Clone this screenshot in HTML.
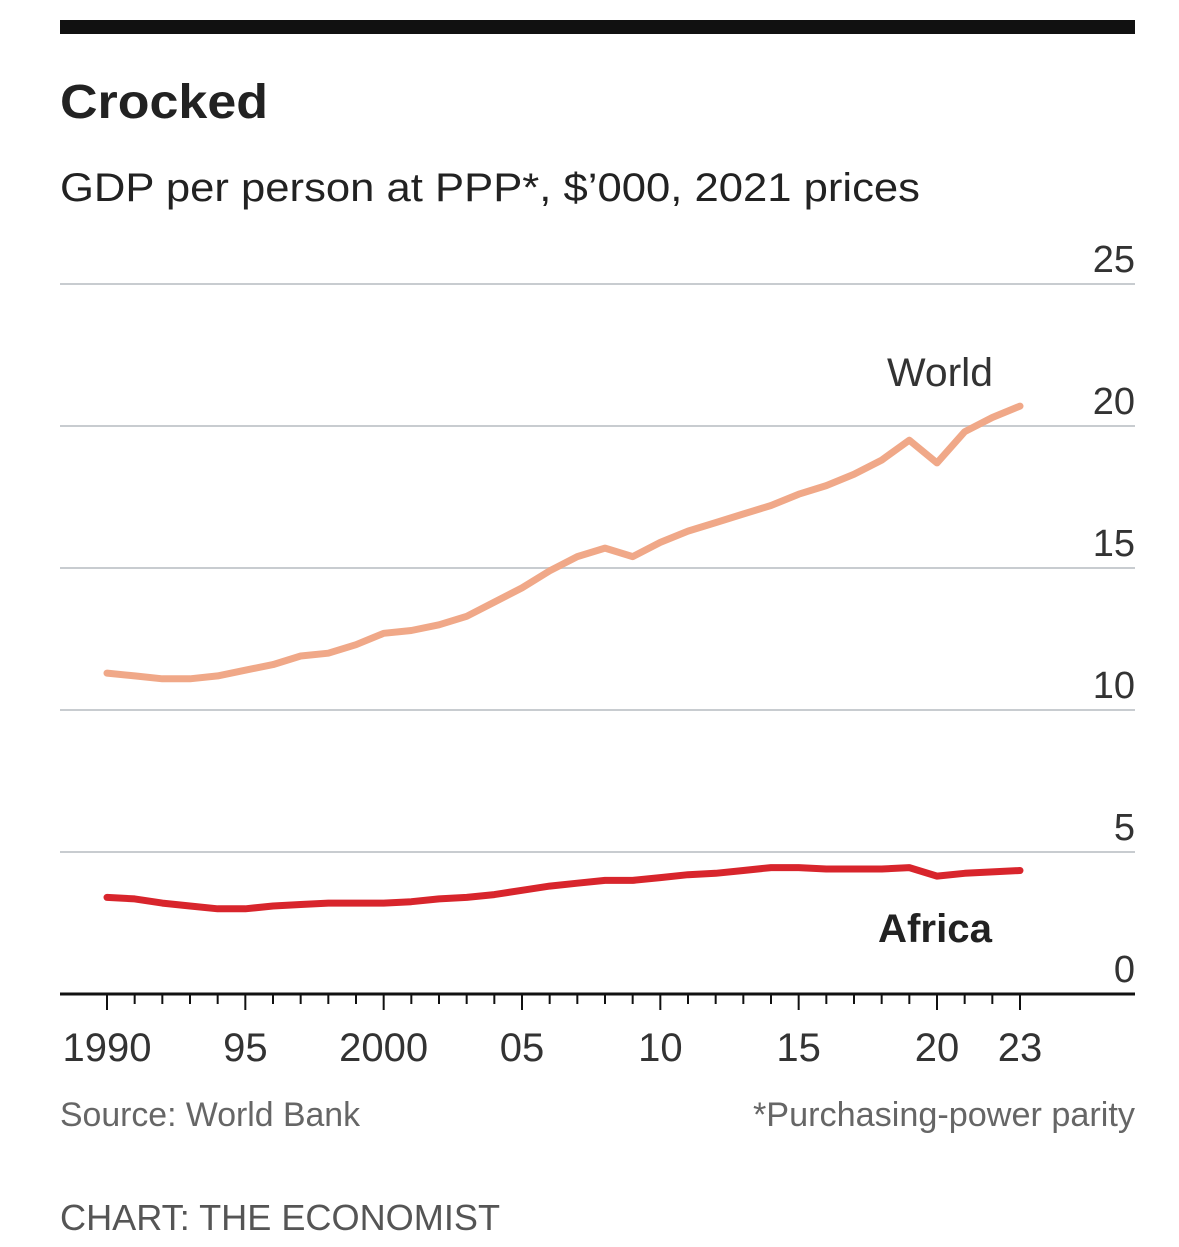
<!DOCTYPE html>
<html><head><meta charset="utf-8"><style>
body{margin:0;background:#fff;width:1179px;height:1247px;overflow:hidden}
svg{display:block;font-family:"Liberation Sans",sans-serif}
</style></head><body>
<svg id="chart" width="1179" height="1247" viewBox="0 0 1179 1247">
<rect x="60" y="20" width="1075" height="14" fill="#111"/>
<text x="60" y="118" font-size="48" font-weight="bold" fill="#222" textLength="208" lengthAdjust="spacingAndGlyphs">Crocked</text>
<text x="60" y="201" font-size="40" fill="#222" textLength="860" lengthAdjust="spacingAndGlyphs">GDP per person at PPP*, $’000, 2021 prices</text>
<g id="grid"></g><g id="xaxis"></g><g id="series"></g>
<text x="940" y="386" font-size="40" fill="#333" text-anchor="middle" textLength="106" lengthAdjust="spacingAndGlyphs">World</text>
<text x="935" y="942" font-size="40" font-weight="bold" fill="#222" text-anchor="middle" textLength="114" lengthAdjust="spacingAndGlyphs">Africa</text>
<text x="60" y="1126" font-size="34" fill="#666" textLength="300" lengthAdjust="spacingAndGlyphs">Source: World Bank</text>
<text x="1135" y="1126" font-size="34" fill="#666" text-anchor="end" textLength="382" lengthAdjust="spacingAndGlyphs">*Purchasing-power parity</text>
<text x="60" y="1230" font-size="36" fill="#555" textLength="440" lengthAdjust="spacingAndGlyphs">CHART: THE ECONOMIST</text>
</svg>
<script>
const years=[1990,1991,1992,1993,1994,1995,1996,1997,1998,1999,2000,2001,2002,2003,2004,2005,2006,2007,2008,2009,2010,2011,2012,2013,2014,2015,2016,2017,2018,2019,2020,2021,2022,2023];
const world=[11.3,11.2,11.1,11.1,11.2,11.4,11.6,11.9,12.0,12.3,12.7,12.8,13.0,13.3,13.8,14.3,14.9,15.4,15.7,15.4,15.9,16.3,16.6,16.9,17.2,17.6,17.9,18.3,18.8,19.5,18.7,19.8,20.3,20.7];
const africa=[3.4,3.35,3.2,3.1,3.0,3.0,3.1,3.15,3.2,3.2,3.2,3.25,3.35,3.4,3.5,3.65,3.8,3.9,4.0,4.0,4.1,4.2,4.25,4.35,4.45,4.45,4.4,4.4,4.4,4.45,4.15,4.25,4.3,4.35];
const yTicks=[0,5,10,15,20,25];
const xLabels=["1990","95","2000","05","10","15","20","23"];
const xLabelYears=[1990,1995,2000,2005,2010,2015,2020,2023];
const NS="http://www.w3.org/2000/svg";
const X=y=>107+(y-1990)*(1020-107)/33;
const Y=v=>994-v*28.4;
function mk(tag,attrs,parent,text){const e=document.createElementNS(NS,tag);for(const k in attrs)e.setAttribute(k,attrs[k]);if(text!==undefined)e.textContent=text;parent.appendChild(e);return e;}
const grid=document.getElementById('grid');
yTicks.forEach(t=>{
  if(t>0){const l=mk('line',{x1:60,x2:1135,y1:Y(t),y2:Y(t),stroke:'#c8ccd0','stroke-width':2},grid);
  
  }
  const tx=mk('text',{x:1135,y:Y(t)-12,'font-size':38,fill:'#333','text-anchor':'end'},grid,String(t));
  
  
});
const xa=document.getElementById('xaxis');
const ax=mk('line',{x1:60,x2:1135,y1:Y(0),y2:Y(0),stroke:'#111','stroke-width':3},xa);


for(let yr=1990;yr<=2023;yr++){
  const major=(yr%5===0)||yr===2023;
  const t=mk('line',{x1:X(yr),x2:X(yr),y1:Y(0),y2:Y(0)+(major?16:10),stroke:'#111','stroke-width':2},xa);
  
  
}
xLabelYears.forEach((yr,i)=>{
  const t=mk('text',{x:X(yr),y:1061,'font-size':40,fill:'#333','text-anchor':'middle'},xa,xLabels[i]);
  
  
});
const sg=document.getElementById('series');
function line(vals,color,w,name){
  const d=vals.map((v,i)=>(i?'L':'M')+X(years[i]).toFixed(1)+','+Y(v).toFixed(1)).join(' ');
  const p=mk('path',{d:d,fill:'none',stroke:color,'stroke-width':w,'stroke-linejoin':'round','stroke-linecap':'round'},sg);
  
  
}
line(world,'#f0a888',7,'world-line');
line(africa,'#d8252c',7,'africa-line');
</script>
</body></html>
